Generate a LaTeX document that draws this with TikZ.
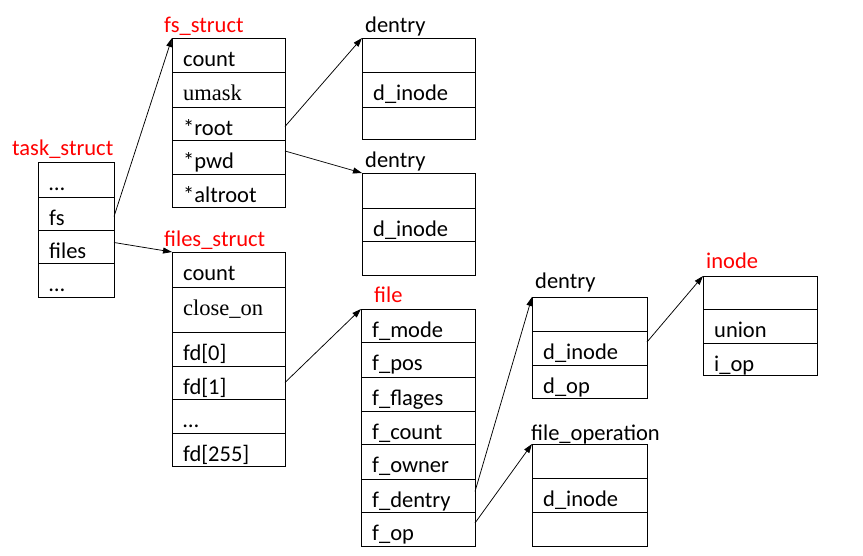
\documentclass[tikz,border=0pt]{standalone}
\usepackage{fontspec}
\setmainfont{Carlito}
\newfontfamily\tmfont{Liberation Serif}
\usetikzlibrary{arrows.meta}
\newcommand\rowbox[6]{%
  \node[rowbox, minimum width=#5, minimum height={#4-#3}, anchor=north west] (#1) at (#2,#3) {};
  \node[rowtext] (#1t) at ([xshift=11pt, yshift={-28.5pt}]#1.north west) {#6};
}
\begin{document}
\begin{tikzpicture}[x=1pt, y=-1pt,
  rowbox/.style={draw=black, line width=0.75pt, inner sep=0pt, outer sep=0pt, rectangle},
  rowtext/.style={anchor=base west, inner sep=0pt, font=\fontsize{22.5}{26}\selectfont},
  title/.style={anchor=base west, inner sep=0pt, font=\fontsize{22.5}{26}\selectfont},
  red title/.style={title, text=red},
  ptr/.style={draw=black, line width=0.75pt, -{Triangle[length=9pt, width=6pt]}}]
\useasboundingbox (0,0) rectangle (863,556);

% task_struct
\node[red title] (tsl) at (12,156) {task\_struct};
\rowbox{ts1}{38}{162}{197}{76}{…}
\rowbox{ts2}{38}{197}{230}{76}{fs}
\rowbox{ts3}{38}{230}{263}{76}{files}
\rowbox{ts4}{38}{263}{297}{76}{…}

% fs_struct
\node[red title] (fsl) at (164,33) {fs\_struct};
\rowbox{fs1}{172}{38}{72}{113}{count}
\rowbox{fs2}{172}{72}{107}{113}{\tmfont umask}
\rowbox{fs3}{172}{107}{140}{113}{*root}
\rowbox{fs4}{172}{140}{174}{113}{*pwd}
\rowbox{fs5}{172}{174}{207}{113}{*altroot}

% dentry 1
\node[title] (d1l) at (365,33) {dentry};
\rowbox{da1}{362}{38}{72}{113}{}
\rowbox{da2}{362}{72}{107}{113}{d\_inode}
\rowbox{da3}{362}{107}{139}{113}{}

% dentry 2
\node[title] (d2l) at (365,168) {dentry};
\rowbox{db1}{362}{173}{208}{113}{}
\rowbox{db2}{362}{208}{241}{113}{d\_inode}
\rowbox{db3}{362}{241}{275}{113}{}

% files_struct
\node[red title] (fil) at (164,247) {files\_struct};
\rowbox{fi1}{172}{252}{287}{113}{count}
\rowbox{fi2}{172}{287}{332}{113}{\tmfont close\_on}
\rowbox{fi3}{172}{332}{366}{113}{fd[0]}
\rowbox{fi4}{172}{366}{399}{113}{fd[1]}
\rowbox{fi5}{172}{399}{433}{113}{…}
\rowbox{fi6}{172}{433}{466}{113}{fd[255]}

% file
\node[red title] (fl) at (374,303) {file};
\rowbox{f1}{361}{309}{342}{114}{f\_mode}
\rowbox{f2}{361}{342}{377}{114}{f\_pos}
\rowbox{f3}{361}{377}{411}{114}{f\_flages}
\rowbox{f4}{361}{411}{444}{114}{f\_count}
\rowbox{f5}{361}{444}{479}{114}{f\_owner}
\rowbox{f6}{361}{479}{512}{114}{f\_dentry}
\rowbox{f7}{361}{512}{546}{114}{f\_op}

% dentry 3
\node[title] (d3l) at (535,289) {dentry};
\rowbox{dc1}{532}{297}{331}{115}{}
\rowbox{dc2}{532}{331}{365}{115}{d\_inode}
\rowbox{dc3}{532}{365}{398}{115}{d\_op}

% file_operation
\node[title] (fol) at (531,440) {file\_operation};
\rowbox{fo1}{532}{444}{478}{115}{}
\rowbox{fo2}{532}{478}{512}{115}{d\_inode}
\rowbox{fo3}{532}{512}{546}{115}{}

% inode
\node[red title] (inl) at (706,269) {inode};
\rowbox{in1}{703}{276}{309}{114}{}
\rowbox{in2}{703}{309}{343}{114}{union}
\rowbox{in3}{703}{343}{375}{114}{i\_op}

% pointers
\draw[ptr] ([yshift=-3pt]ts2.east) -- (fs1.north west);
\draw[ptr] ([yshift=4pt]ts3.east) -- (fi1.north west);
\draw[ptr] ([yshift=-3pt]fs3.east) -- (da1.north west);
\draw[ptr] ([yshift=6pt]fs4.east) -- (db1.north west);
\draw[ptr] (fi4.east) -- (f1.north west);
\draw[ptr] ([yshift=4pt]f6.east) -- (dc1.north west);
\draw[ptr] ([yshift=6pt]f7.east) -- (fo1.north west);
\draw[ptr] ([yshift=6pt]dc2.east) -- (in1.north west);
\end{tikzpicture}
\end{document}
